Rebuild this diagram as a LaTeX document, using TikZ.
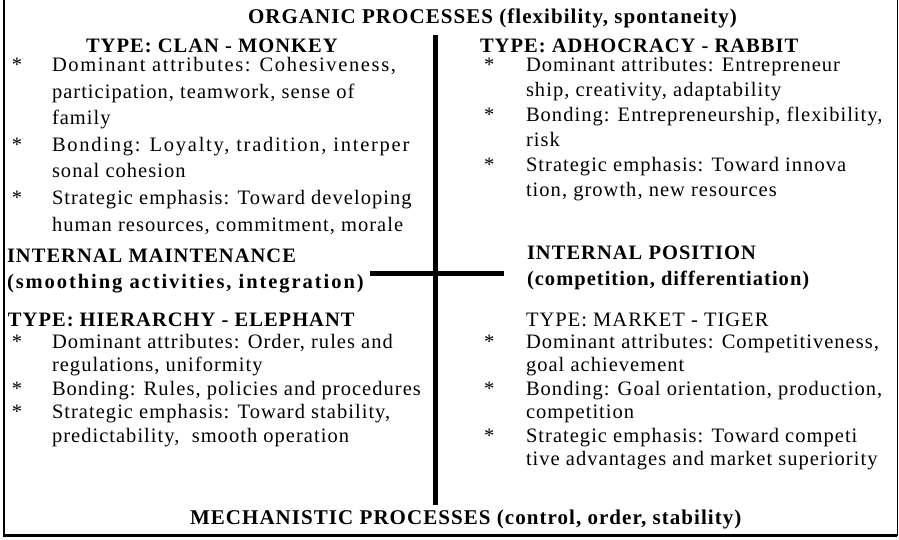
\documentclass[tikz,border=0pt]{standalone}
\usepackage{fontspec}
\setmainfont{Liberation Serif}[LetterSpace=5]
\usetikzlibrary{positioning}

\begin{document}
\begin{tikzpicture}[x=1pt, y=-1pt,
	every node/.style={inner sep=0pt, outer sep=0pt},
	title/.style={anchor=base west, font=\fontsize{21}{26}\selectfont\bfseries},
	head/.style={anchor=base west, font=\fontsize{20.5}{26}\selectfont\bfseries},
	headtwo/.style={anchor=north west, align=left, font=\fontsize{20.5}{26}\selectfont\bfseries},
	plain/.style={anchor=base west, font=\fontsize{20.5}{26}\selectfont},
	bullet/.style={anchor=base west, font=\fontsize{20.5}{26}\selectfont},
	itemtop/.style={anchor=north west, align=left, font=\fontsize{20.5}{26.5}\selectfont},
	itemright/.style={anchor=north west, align=left, font=\fontsize{20.5}{25}\selectfont},
	itemlow/.style={anchor=north west, align=left, font=\fontsize{20.5}{23.5}\selectfont},
	bar/.style={line width=5pt}]
	\useasboundingbox (0,0) rectangle (899,540);

	% frame, open at the top
	\coordinate (tl) at (4,0);
	\coordinate (bl) at (4,535.5);
	\coordinate (br) at (897,535.5);
	\coordinate (tr) at (897,0);
	\draw[line width=2.8pt] (tl) -- (bl) -- (br);
	\draw[line width=1pt] (br) -- (tr);

	% the cross
	\coordinate (vtop) at (435,35);
	\coordinate (vbot) at (435,505);
	\coordinate (hleft) at (370,273);
	\coordinate (hright) at (504,273);
	\draw[bar] (vtop) -- (vbot);
	\draw[bar] (hleft) -- (hright);

	% titles
	\node[title] (organic) at (248,24) {ORGANIC PROCESSES (flexibility, spontaneity)};
	\node[title] (mechanistic) at (190,524) {MECHANISTIC PROCESSES (control, order, stability)};

	% clan
	\node[head] (clan) at (86,53) {TYPE: CLAN - MONKEY};
	\node[bullet] (c1s) at (12,72) {*};
	\node[itemtop] (c1) at (52,53.45) {\strut{\addfontfeatures{LetterSpace=8}Dominant attributes: Cohesiveness,}\\ participation, teamwork, sense of\\ family};
	\node[bullet] (c2s) at (12,151.5) {*};
	\node[itemtop] (c2) at (52,132.95) {\strut{\addfontfeatures{LetterSpace=8.5}Bonding: Loyalty, tradition, interper}\\ sonal cohesion};
	\node[bullet] (c3s) at (12,204.5) {*};
	\node[itemtop] (c3) at (52,185.95) {\strut Strategic emphasis: Toward developing\\ human resources, commitment, morale};

	% adhocracy
	\node[head] (adhocracy) at (480,53) {TYPE: ADHOCRACY - RABBIT};
	\node[bullet] (a1s) at (484,72) {*};
	\node[itemright] (a1) at (526,54.5) {\strut Dominant attributes: Entrepreneur\\ ship, creativity, adaptability};
	\node[bullet] (a2s) at (484,122) {*};
	\node[itemright] (a2) at (526,104.5) {\strut Bonding: Entrepreneurship, flexibility,\\ risk};
	\node[bullet] (a3s) at (484,172) {*};
	\node[itemright] (a3) at (526,154.5) {\strut Strategic emphasis: Toward innova\\ tion, growth, new resources};

	% the two axes
	\node[headtwo] (maintenance) at (7,243.8) {\strut INTERNAL MAINTENANCE\\ {\addfontfeatures{LetterSpace=9.5}(smoothing activities, integration)}};
	\node[headtwo] (position) at (527,240.8) {\strut INTERNAL POSITION\\ (competition, differentiation)};

	% hierarchy
	\node[head] (hierarchy) at (8,326) {TYPE: HIERARCHY - ELEPHANT};
	\node[bullet] (h1s) at (12,348) {*};
	\node[itemlow] (h1) at (52,331.55) {\strut Dominant attributes: Order, rules and\\ regulations, uniformity};
	\node[bullet] (h2s) at (12,395) {*};
	\node[itemlow] (h2) at (52,378.55) {\strut Bonding: Rules, policies and procedures};
	\node[bullet] (h3s) at (12,418.5) {*};
	\node[itemlow] (h3) at (52,402.05) {\strut Strategic emphasis: Toward stability,\\ predictability, \ smooth operation};

	% market
	\node[plain] (market) at (526,326) {TYPE: MARKET - TIGER};
	\node[bullet] (m1s) at (484,348) {*};
	\node[itemlow] (m1) at (526,331.55) {\strut Dominant attributes: Competitiveness,\\ goal achievement};
	\node[bullet] (m2s) at (484,395) {*};
	\node[itemlow] (m2) at (526,378.55) {\strut Bonding: Goal orientation, production,\\ competition};
	\node[bullet] (m3s) at (484,442) {*};
	\node[itemlow] (m3) at (526,425.55) {\strut Strategic emphasis: Toward competi\\ tive advantages and market superiority};
\end{tikzpicture}
\end{document}
